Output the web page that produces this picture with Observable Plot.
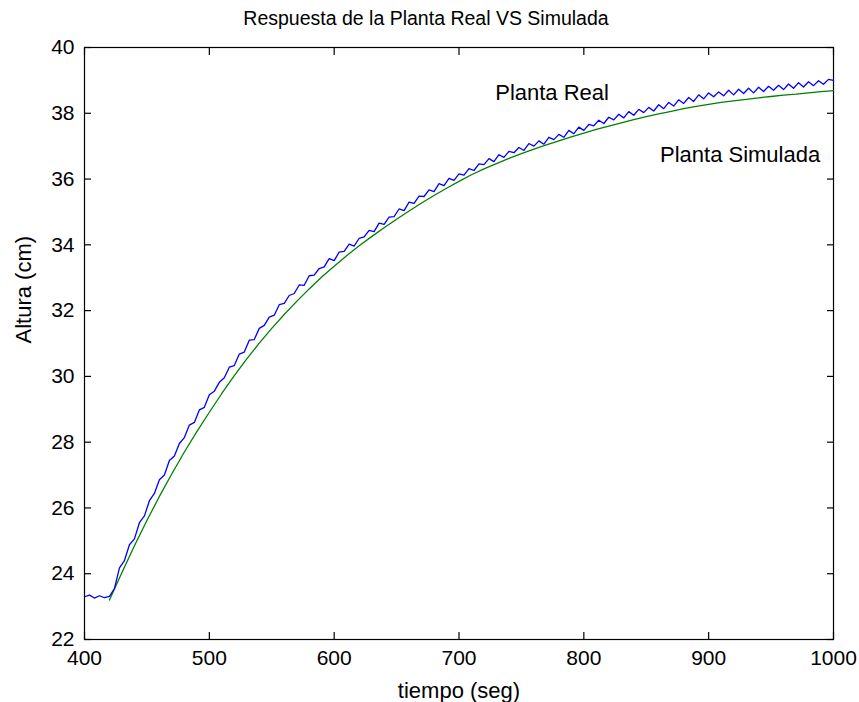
<!DOCTYPE html>
<html>
<head>
<meta charset="utf-8">
<script src="https://cdn.jsdelivr.net/npm/d3@7"></script>
<script src="https://cdn.jsdelivr.net/npm/@observablehq/plot@0.6"></script>
<style>
  html, body { margin: 0; padding: 0; background: #fff; }
  #chart { width: 859px; height: 702px; }
</style>
</head>
<body>
<div id="chart"></div>
<script>
// ---- Data ----
const titleText = "Respuesta de la Planta Real VS Simulada";
const xLabel = "tiempo (seg)";
const yLabel = "Altura (cm)";
const xTicks = [400, 500, 600, 700, 800, 900, 1000];
const yTicks = [22, 24, 26, 28, 30, 32, 34, 36, 38, 40];

// Planta Real (measured, noisy) — time every 4 s
const realTime = [
  400,404,408,412,416,420,424,428,432,436,440,444,448,452,456,460,464,468,472,476,
  480,484,488,492,496,500,504,508,512,516,520,524,528,532,536,540,544,548,552,556,
  560,564,568,572,576,580,584,588,592,596,600,604,608,612,616,620,624,628,632,636,
  640,644,648,652,656,660,664,668,672,676,680,684,688,692,696,700,704,708,712,716,
  720,724,728,732,736,740,744,748,752,756,760,764,768,772,776,780,784,788,792,796,
  800,804,808,812,816,820,824,828,832,836,840,844,848,852,856,860,864,868,872,876,
  880,884,888,892,896,900,904,908,912,916,920,924,928,932,936,940,944,948,952,956,
  960,964,968,972,976,980,984,988,992,996,1000
];
const realHeight = [
  23.30,23.35,23.26,23.33,23.27,23.31,23.55,24.18,24.40,24.88,25.06,25.55,25.76,26.22,26.44,26.86,27.00,27.44,27.58,27.96,
  28.14,28.52,28.60,28.98,29.06,29.44,29.55,29.82,29.96,30.28,30.33,30.68,30.74,31.10,31.12,31.46,31.55,31.80,31.86,32.18,
  32.22,32.46,32.52,32.78,32.77,33.06,33.08,33.28,33.33,33.58,33.52,33.78,33.80,34.02,33.96,34.20,34.24,34.44,34.40,34.66,
  34.62,34.84,34.86,35.09,35.04,35.30,35.26,35.48,35.47,35.67,35.62,35.86,35.80,36.02,35.96,36.16,36.12,36.32,36.26,36.46,
  36.44,36.62,36.53,36.74,36.66,36.84,36.80,36.96,36.87,37.08,37.00,37.16,37.06,37.27,37.20,37.36,37.27,37.48,37.38,37.58,
  37.48,37.66,37.62,37.79,37.69,37.88,37.80,37.97,37.86,38.05,37.94,38.12,38.02,38.18,38.07,38.26,38.14,38.33,38.22,38.41,
  38.30,38.48,38.36,38.56,38.44,38.62,38.50,38.65,38.53,38.70,38.56,38.73,38.60,38.76,38.62,38.79,38.66,38.82,38.70,38.85,
  38.72,38.89,38.76,38.93,38.80,38.96,38.84,38.99,38.88,39.03,39.00
];

// Planta Simulada (smooth) — time every 10 s
const simTime = [
  420,430,440,450,460,470,480,490,500,510,520,530,540,550,560,570,580,590,600,610,
  620,630,640,650,660,670,680,690,700,710,720,730,740,750,760,770,780,790,800,810,
  820,830,840,850,860,870,880,890,900,910,920,930,940,950,960,970,980,990,1000
];
const simHeight = [
  23.20,24.04,24.85,25.62,26.35,27.04,27.70,28.32,28.91,29.48,30.02,30.53,31.01,31.46,31.88,32.28,32.66,33.02,33.35,33.67,
  33.97,34.25,34.52,34.78,35.03,35.27,35.50,35.72,35.93,36.13,36.31,36.47,36.63,36.77,36.91,37.04,37.16,37.28,37.40,37.51,
  37.61,37.71,37.81,37.90,37.98,38.06,38.14,38.21,38.27,38.33,38.38,38.42,38.47,38.51,38.55,38.58,38.62,38.66,38.69
];

// Annotations
const noteText = ["Planta Real", "Planta Simulada"];
const noteX = [729, 861];
const noteY = [38.63, 36.72];

// ---- Build tables ----
const real = realTime.map((t, i) => ({t, h: realHeight[i]}));
const sim = simTime.map((t, i) => ({t, h: simHeight[i]}));
const notes = noteText.map((s, i) => ({s, x: noteX[i], y: noteY[i]}));

const FONT = "'Liberation Sans', Arial, Helvetica, sans-serif";
const fmt = d3.format("d");

const chart = Plot.plot({
  width: 859,
  height: 702,
  marginLeft: 84,
  marginRight: 26,
  marginTop: 47,
  marginBottom: 63,
  style: {fontFamily: FONT, fontSize: "21px", color: "#000", background: "#fff"},
  x: {domain: [400, 1000]},
  y: {domain: [22, 40]},
  marks: [
    Plot.frame({stroke: "#000", strokeWidth: 1.2}),
    Plot.axisX({ticks: xTicks, tickFormat: fmt, tickSize: -7, tickPadding: 18, stroke: "#000", strokeWidth: 1.2,
      fontSize: 21, label: null}),
    Plot.axisX({anchor: "top", ticks: xTicks, tickSize: -7, tickFormat: () => "", label: null, strokeWidth: 1.2}),
    Plot.axisY({ticks: yTicks, tickFormat: fmt, tickSize: -7, tickPadding: 17, stroke: "#000", strokeWidth: 1.2,
      fontSize: 21, label: null}),
    Plot.axisY({anchor: "right", ticks: yTicks, tickSize: -7, tickFormat: () => "", label: null, strokeWidth: 1.2}),
    Plot.line(sim, {x: "t", y: "h", stroke: "#008000", strokeWidth: 1.3}),
    Plot.line(real, {x: "t", y: "h", stroke: "#0000ff", strokeWidth: 1.3}),
    Plot.text(notes, {x: "x", y: "y", text: "s", textAnchor: "start", fill: "#000", fontSize: 22}),
    Plot.text([titleText], {frameAnchor: "top", lineAnchor: "middle", dx: -33, dy: -29, fill: "#000", fontSize: 19.5}),
    Plot.text([xLabel], {frameAnchor: "bottom", lineAnchor: "middle", dy: 51, fill: "#000", fontSize: 22}),
    Plot.text([yLabel], {frameAnchor: "left", lineAnchor: "middle", rotate: -90, dx: -61, fill: "#000", fontSize: 22})
  ]
});
document.getElementById("chart").appendChild(chart);
</script>
</body>
</html>
